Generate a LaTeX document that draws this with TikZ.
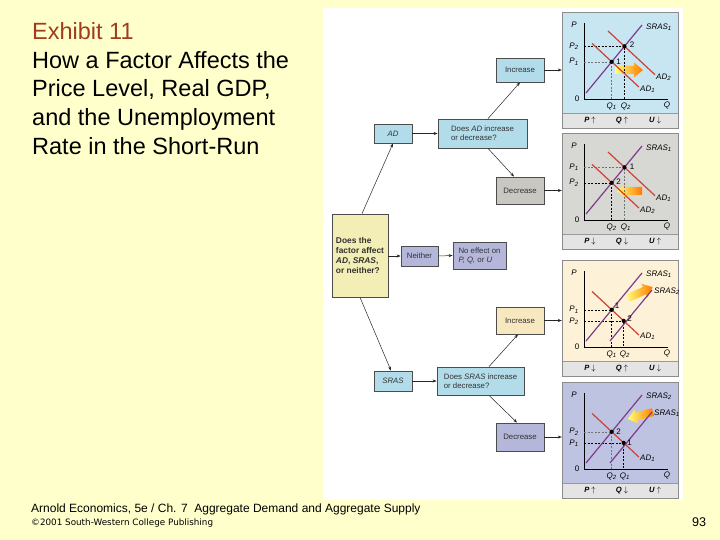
\documentclass[tikz,border=0pt]{standalone}
\usepackage{fontspec}
\setmainfont{Liberation Sans}
\newfontfamily\dejavu{DejaVu Sans}
\usetikzlibrary{arrows.meta}
\definecolor{bgy}{RGB}{255,255,204}
\definecolor{exhib}{RGB}{160,60,30}
\definecolor{blubox}{RGB}{178,220,234}
\definecolor{blupan}{RGB}{200,229,242}
\definecolor{grybox}{RGB}{200,199,193}
\definecolor{grypan}{RGB}{215,215,211}
\definecolor{crmbox}{RGB}{248,232,192}
\definecolor{crmpan}{RGB}{253,242,215}
\definecolor{lavbox}{RGB}{180,182,218}
\definecolor{lavpan}{RGB}{190,195,226}
\definecolor{ylwbox}{RGB}{243,238,182}
\definecolor{stripc}{RGB}{228,228,228}
\definecolor{adred}{RGB}{205,65,55}
\definecolor{sraspur}{RGB}{125,60,140}
\tikzset{
  box/.style={draw=black!70, line width=0.8pt, inner sep=1pt, align=center,
    font=\fontsize{7.8}{9}\selectfont, text=black!80},
  conn/.style={-{Stealth[length=4pt,width=3pt]}, line width=0.5pt, draw=black!85},
  panel/.style={minimum width=116pt, minimum height=116pt, inner sep=0pt},
  axisln/.style={line width=0.9pt, black},
  adline/.style={adred, line width=1.2pt},
  sline/.style={sraspur, line width=1.2pt},
  dashln/.style={dashed, dash pattern=on 2pt off 1.5pt, line width=0.5pt, black},
  gl/.style={font=\fontsize{8}{9}\selectfont\itshape, inner sep=0pt},
  gn/.style={font=\fontsize{8}{9}\selectfont, inner sep=0pt},
  dotpt/.style={circle, fill=black, inner sep=0pt, minimum size=4.2pt},
  stl/.style={font=\fontsize{7.6}{9}\selectfont\bfseries, inner sep=0pt},
  ttl/.style={anchor=base west, font=\fontsize{23.5}{28}\selectfont, inner sep=0pt}
}
\newcommand\pbase[5]{%
  \node[panel, fill=#2] (#1) at (58,58) {};
  \fill[stripc] (0,101) rectangle (116,116);
  \draw[black!40, line width=0.5pt] (0,101) -- (116,101);
  \draw[black!45, line width=0.5pt] (0,0) rectangle (116,116);
  \draw[axisln] (22,11) -- (22,87) -- (106,87);
  \node[gl] (#1P) at (12,13) {P};
  \node[gl] (#1Q) at (105,93) {Q};
  \node[gn] (#1O) at (15,87) {0};
  \node[stl] (#1sP) at (28,108.5) {\textit{P} #3};
  \node[stl] (#1sQ) at (60,108.5) {\textit{Q} #4};
  \node[stl] (#1sU) at (93,108.5) {\textit{U} #5};
}
\newcommand\fatarrow[2]{%
  \shade[left color=yellow!55, right color=orange!95!red]
    (0,-4) -- (#1-9,-4) -- (#1-9,-7.5) -- (#1,0) -- (#1-9,7.5) -- (#1-9,4) -- (0,4) -- cycle;
}
\begin{document}
\begin{tikzpicture}[x=1pt,y=-1pt]
\useasboundingbox (0,0) rectangle (720,540);
\fill[bgy] (0,0) rectangle (720,540);
\fill[white] (323,8) rectangle (683,500);

% title
\node[ttl, text=exhib] (t1) at (32,39.5) {Exhibit 11};
\node[ttl] (t2) at (32,68.2) {How a Factor Affects the};
\node[ttl] (t3) at (32,97) {Price Level, Real GDP,};
\node[ttl] (t4) at (32,125.7) {and the Unemployment};
\node[ttl] (t5) at (32,154.5) {Rate in the Short-Run};

% footer
\node[anchor=base west, font=\fontsize{12}{14}\selectfont, inner sep=0pt] (f1) at (31,512)
  {Arnold Economics, 5e / Ch. 7\ \ Aggregate Demand and Aggregate Supply};
\node[anchor=base west, font=\dejavu\fontsize{8.8}{10}\selectfont, inner sep=0pt] (f2) at (31,525.5)
  {©2001 South-Western College Publishing};
\node[anchor=base west, font=\fontsize{12.6}{14}\selectfont, inner sep=0pt] (pg) at (692,526) {93};

% ---------- panel 1 : AD increase
\begin{scope}[shift={(562,12)}]
  \pbase{g1}{blupan}{$\uparrow$}{$\uparrow$}{$\downarrow$}
  \begin{scope}[shift={(53,58)}] \fatarrow{28}{} \end{scope}
  \draw[dashln] (22,34.3) -- (62.45,34.3) -- (62.45,87);
  \draw[dashln, black!55] (22,49.8) -- (49.7,49.8) -- (49.7,87);
  \draw[sline] (24,81) -- (80,13);
  \draw[adline] (30,31.4) -- (77,75.1);
  \draw[adline] (46,19) -- (93,62.7);
  \node[dotpt] (g1a) at (49.7,49.8) {};
  \node[dotpt] (g1b) at (62.45,34.3) {};
  \node[gn] (g1n1) at (56.5,50) {1};
  \node[gn] (g1n2) at (70,33) {2};
  \node[gl] (g1p2) at (12,34.3) {P\textsubscript{2}};
  \node[gl] (g1p1) at (12,49.8) {P\textsubscript{1}};
  \node[gl] (g1q1) at (49.7,94.5) {Q\textsubscript{1}};
  \node[gl] (g1q2) at (64,94.5) {Q\textsubscript{2}};
  \node[gl, anchor=west] (g1s) at (84,15) {SRAS\textsubscript{1}};
  \node[gl, anchor=west] (g1d2) at (94,65) {AD\textsubscript{2}};
  \node[gl, anchor=west] (g1d1) at (78,77) {AD\textsubscript{1}};
\end{scope}

% ---------- panel 2 : AD decrease
\begin{scope}[shift={(562,133)}]
  \pbase{g2}{grypan}{$\downarrow$}{$\downarrow$}{$\uparrow$}
  \begin{scope}[shift={(80,58)}, rotate=180] \fatarrow{25}{} \end{scope}
  \draw[dashln, black!55] (22,34.3) -- (62.45,34.3) -- (62.45,87);
  \draw[dashln] (22,49.8) -- (49.7,49.8) -- (49.7,87);
  \draw[sline] (24,81) -- (80,13);
  \draw[adline] (30,31.4) -- (77,75.1);
  \draw[adline] (46,19) -- (93,62.7);
  \node[dotpt] (g2a) at (49.7,49.8) {};
  \node[dotpt] (g2b) at (62.45,34.3) {};
  \node[gn] (g2n2) at (56.5,49) {2};
  \node[gn] (g2n1) at (70,34) {1};
  \node[gl] (g2p1) at (12,34.3) {P\textsubscript{1}};
  \node[gl] (g2p2) at (12,49.8) {P\textsubscript{2}};
  \node[gl] (g2q2) at (49.7,94.5) {Q\textsubscript{2}};
  \node[gl] (g2q1) at (64,94.5) {Q\textsubscript{1}};
  \node[gl, anchor=west] (g2s) at (84,15) {SRAS\textsubscript{1}};
  \node[gl, anchor=west] (g2d1) at (94,65) {AD\textsubscript{1}};
  \node[gl, anchor=west] (g2d2) at (78,77) {AD\textsubscript{2}};
\end{scope}

% ---------- panel 3 : SRAS increase
\begin{scope}[shift={(562,260)}]
  \pbase{g3}{crmpan}{$\downarrow$}{$\uparrow$}{$\downarrow$}
  \begin{scope}[shift={(66,38)}, rotate=24] \fatarrow{27}{} \end{scope}
  \draw[dashln] (22,49.8) -- (49.7,49.8) -- (49.7,87);
  \draw[dashln] (22,60.9) -- (61.7,60.9) -- (61.7,87);
  \draw[sline] (24,81) -- (80,13);
  \draw[sline] (48,81) -- (90,30);
  \draw[adline] (30,31.4) -- (77,75.1);
  \node[dotpt] (g3a) at (49.7,49.8) {};
  \node[dotpt] (g3c) at (61.7,60.9) {};
  \node[gn] (g3n1) at (55,45.5) {1};
  \node[gn] (g3n2) at (67.5,58.5) {2};
  \node[gl] (g3p1) at (12,49.8) {P\textsubscript{1}};
  \node[gl] (g3p2) at (12,61.5) {P\textsubscript{2}};
  \node[gl] (g3q1) at (49.7,94.5) {Q\textsubscript{1}};
  \node[gl] (g3q2) at (63,94.5) {Q\textsubscript{2}};
  \node[gl, anchor=west] (g3s1) at (84,14) {SRAS\textsubscript{1}};
  \node[gl, anchor=west] (g3s2) at (92,31) {SRAS\textsubscript{2}};
  \node[gl, anchor=west] (g3d1) at (78,76) {AD\textsubscript{1}};
\end{scope}

% ---------- panel 4 : SRAS decrease
\begin{scope}[shift={(562,382)}]
  \pbase{g4}{lavpan}{$\uparrow$}{$\downarrow$}{$\uparrow$}
  \begin{scope}[shift={(91,30)}, rotate=195.6] \fatarrow{26}{} \end{scope}
  \draw[dashln, black!55] (22,49.8) -- (49.7,49.8) -- (49.7,87);
  \draw[dashln] (22,60.9) -- (61.7,60.9) -- (61.7,87);
  \draw[sline] (24,81) -- (80,13);
  \draw[sline] (48,81) -- (90,30);
  \draw[adline] (30,31.4) -- (77,75.1);
  \node[dotpt] (g4a) at (49.7,49.8) {};
  \node[dotpt] (g4c) at (61.7,60.9) {};
  \node[gn] (g4n2) at (56.5,50) {2};
  \node[gn] (g4n1) at (67.5,61) {1};
  \node[gl] (g4p2) at (12,49.8) {P\textsubscript{2}};
  \node[gl] (g4p1) at (12,61.5) {P\textsubscript{1}};
  \node[gl] (g4q2) at (49.7,94.5) {Q\textsubscript{2}};
  \node[gl] (g4q1) at (63,94.5) {Q\textsubscript{1}};
  \node[gl, anchor=west] (g4s2) at (84,14) {SRAS\textsubscript{2}};
  \node[gl, anchor=west] (g4s1) at (92,31) {SRAS\textsubscript{1}};
  \node[gl, anchor=west] (g4d1) at (78,76) {AD\textsubscript{1}};
\end{scope}

% ---------- flowchart boxes
\node[box, fill=blubox, minimum width=38pt, minimum height=19pt] (adb) at (393,133.5) {\textit{AD}};
\node[box, fill=blubox, minimum width=89pt, minimum height=29pt, align=left] (qad) at (482.5,133.5)
  {Does \textit{AD} increase\\or decrease?};
\node[box, fill=blubox, minimum width=48pt, minimum height=24pt] (inc1) at (520,70) {Increase};
\node[box, fill=grybox, minimum width=48pt, minimum height=27pt] (dec1) at (520,190.5) {Decrease};
\node[box, fill=ylwbox, minimum width=56pt, minimum height=83pt, align=left,
  font=\fontsize{8.4}{10.3}\selectfont\bfseries] (fac) at (360,255.5)
  {Does the\\factor affect\\\textit{AD}, \textit{SRAS},\\or neither?};
\node[box, fill=lavbox, minimum width=37pt, minimum height=20pt] (nei) at (419.5,256) {Neither};
\node[box, fill=lavbox, minimum width=53pt, minimum height=27pt, align=left] (noe) at (479.5,255.5)
  {No effect on\\\textit{P, Q,} or \textit{U}};
\node[box, fill=blubox, minimum width=38pt, minimum height=20pt] (srb) at (393,381) {\textit{SRAS}};
\node[box, fill=blubox, minimum width=87pt, minimum height=28pt, align=left] (qsr) at (480.5,381)
  {Does \textit{SRAS} increase\\or decrease?};
\node[box, fill=crmbox, minimum width=48pt, minimum height=27pt] (inc2) at (520,320.5) {Increase};
\node[box, fill=lavbox, minimum width=48pt, minimum height=28pt] (dec2) at (520,437) {Decrease};

% ---------- connectors
\draw[conn] ([xshift=2pt]fac.north) -- (adb.south);
\draw[conn] (adb.east) -- (qad.west);
\draw[conn] ([xshift=5.5pt]qad.north) -- (inc1.south);
\draw[conn] ([xshift=5.5pt]qad.south) -- ([xshift=-6pt]dec1.north);
\draw[conn] (fac.east |- nei.west) -- (nei.west);
\draw[conn] (nei.east) -- (noe.west);
\draw[conn] (fac.south) -- ([xshift=-2pt]srb.north);
\draw[conn] (srb.east) -- (qsr.west);
\draw[conn] ([xshift=8.5pt]qsr.north) -- ([xshift=-2pt]inc2.south);
\draw[conn] ([xshift=8.5pt]qsr.south) -- ([xshift=-3pt]dec2.north);
\draw[conn] (inc1.east) -- (inc1.east -| g1.west);
\draw[conn] (dec1.east) -- (dec1.east -| g2.west);
\draw[conn] (inc2.east) -- (inc2.east -| g3.west);
\draw[conn] (dec2.east) -- (dec2.east -| g4.west);
\end{tikzpicture}
\end{document}
